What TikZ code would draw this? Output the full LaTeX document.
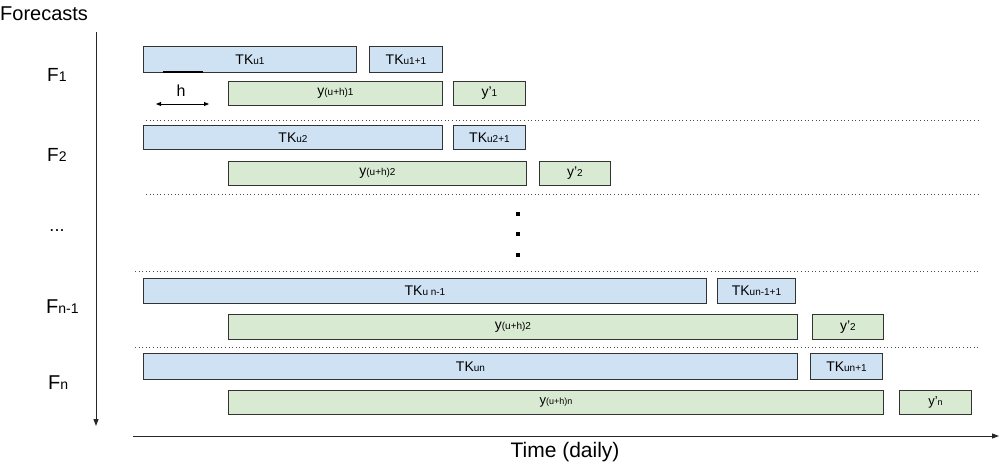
\documentclass[tikz,border=0pt]{standalone}
\usepackage{fontspec}
\setmainfont{Liberation Sans}
\usetikzlibrary{arrows.meta}
\newcommand{\mysub}[2][10]{{\fontsize{#1}{#1}\selectfont #2}}
\tikzset{
  bar/.style={draw=black!80, line width=0.9pt, anchor=north west, inner sep=0pt, font=\fontsize{14}{14}\selectfont},
  bluebar/.style={bar, fill={rgb,255:red,207;green,226;blue,243}},
  greenbar/.style={bar, fill={rgb,255:red,217;green,234;blue,211}},
  sep/.style={black!70, line width=0.9pt, dash pattern=on 1pt off 2.6pt},
  axis/.style={black!85, line width=1pt, -{Triangle[length=7pt,width=5pt]}},
  lbl/.style={font=\fontsize{20}{20}\selectfont, inner sep=0pt},
  flbl/.style={inner sep=0pt, anchor=base west},
}
\begin{document}
\begin{tikzpicture}[x=1pt,y=-1pt]
\useasboundingbox (0,0) rectangle (1001,468);
% axes
\coordinate (vtop) at (96,32);
\coordinate (vbot) at (96,426);
\coordinate (hl) at (133,436);
\coordinate (hr) at (999,436);
\draw[axis] (vtop) -- (vbot);
\draw[axis] (hl) -- (hr);
\node[lbl, anchor=west] (fc) at (0,14) {Forecasts};
\node[lbl, font=\fontsize{21}{21}\selectfont] (time) at (565,452) {Time (daily)};
% left labels
\node[flbl, font=\fontsize{19}{19}\selectfont] (f1) at (47,82) {F\mysub[14]{1}};
\node[flbl, font=\fontsize{19}{19}\selectfont] (f2) at (47,161) {F\mysub[14]{2}};
\node[lbl, font=\fontsize{18}{18}\selectfont] (fdots) at (57,231) {...};
\node[flbl, font=\fontsize{20}{20}\selectfont] (fn1) at (46,313) {F\mysub[14]{n-1}};
\node[flbl, font=\fontsize{20}{20}\selectfont] (fn) at (48,389) {F\mysub[14]{n}};
% row 1
\node[bluebar, minimum width=213pt, minimum height=26pt] (tk1) at (143,46) {TK\mysub{u1}};
\node[bluebar, minimum width=73pt, minimum height=26pt] (tk1b) at (369,46) {TK\mysub{u1+1}};
\coordinate (mk1) at (163,72);
\coordinate (mk2) at (203,72);
\draw[line width=2pt] (mk1) -- (mk2);
\node[greenbar, minimum width=214pt, minimum height=24pt] (y1) at (228,81) {y\mysub{(u+h)1}};
\node[greenbar, minimum width=72pt, minimum height=24pt] (yp1) at (453,81) {y’\mysub{1}};
\coordinate (h1) at (156,104);
\coordinate (h2) at (209,104);
\draw[line width=0.9pt, {Triangle[length=5pt,width=4pt]}-{Triangle[length=5pt,width=4pt]}] (h1) -- (h2);
\node[font=\fontsize{16}{16}\selectfont, inner sep=0pt] (hlab) at (181,91) {h};
\coordinate (s1a) at (146,120); \coordinate (s1b) at (980,120);
\draw[sep] (s1a) -- (s1b);
% row 2
\node[bluebar, minimum width=299pt, minimum height=24pt] (tk2) at (143,125) {TK\mysub{u2}};
\node[bluebar, minimum width=72pt, minimum height=24pt] (tk2b) at (453,125) {TK\mysub{u2+1}};
\node[greenbar, minimum width=298pt, minimum height=24pt] (y2) at (228,161) {y\mysub{(u+h)2}};
\node[greenbar, minimum width=71pt, minimum height=24pt] (yp2) at (539,161) {y’\mysub{2}};
\coordinate (s2a) at (146,194); \coordinate (s2b) at (980,194);
\draw[sep] (s2a) -- (s2b);
% vertical dots
\node[fill=black, minimum size=3.5pt, inner sep=0pt] (d1) at (518,214) {};
\node[fill=black, minimum size=3.5pt, inner sep=0pt] (d2) at (518,234) {};
\node[fill=black, minimum size=3.5pt, inner sep=0pt] (d3) at (518,255) {};
\coordinate (s3a) at (135,271); \coordinate (s3b) at (980,271);
\draw[sep] (s3a) -- (s3b);
% row n-1
\node[bluebar, minimum width=563pt, minimum height=25pt] (tkn1) at (143,278) {TK\mysub{u n-1}};
\node[bluebar, minimum width=78pt, minimum height=25pt] (tkn1b) at (717,278) {TK\mysub{un-1+1}};
\node[greenbar, minimum width=569pt, minimum height=25pt] (yn1) at (228,314) {y\mysub{(u+h)2}};
\node[greenbar, minimum width=71pt, minimum height=25pt] (ypn1) at (812,314) {y’\mysub{2}};
\coordinate (s4a) at (135,347); \coordinate (s4b) at (980,347);
\draw[sep] (s4a) -- (s4b);
% row n
\node[bluebar, minimum width=654pt, minimum height=26pt] (tkn) at (143,353) {TK\mysub{un}};
\node[bluebar, minimum width=72pt, minimum height=26pt] (tknb) at (810,353) {TK\mysub{un+1}};
\node[greenbar, minimum width=655pt, minimum height=24pt, font=\fontsize{13}{13}\selectfont] (yn) at (228,390) {y\mysub[9]{(u+h)n}};
\node[greenbar, minimum width=72pt, minimum height=24pt, font=\fontsize{13}{13}\selectfont] (ypn) at (899,390) {y’\mysub[9]{n}};
\end{tikzpicture}
\end{document}
